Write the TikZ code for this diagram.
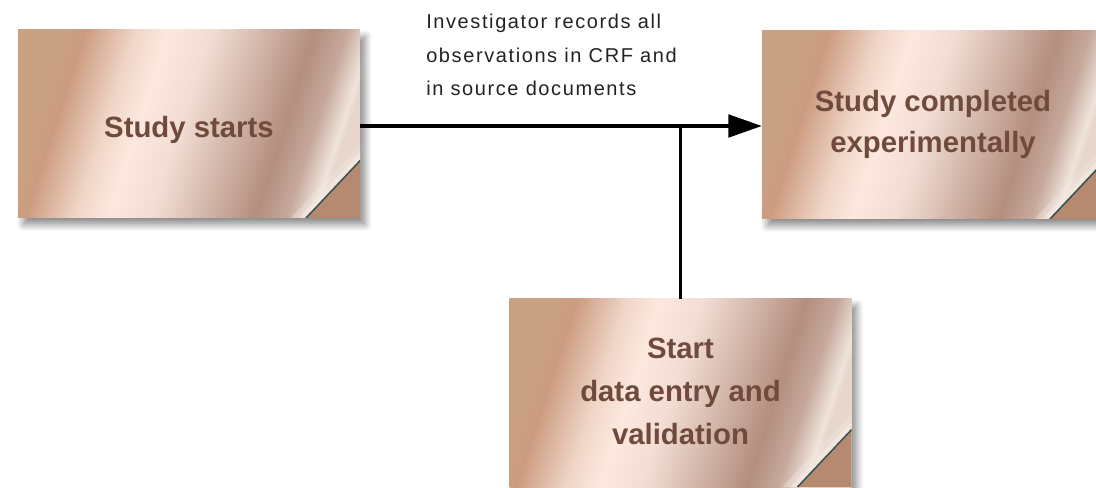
\documentclass[tikz,border=0pt]{standalone}
\usepackage{fontspec}
\setmainfont{Liberation Sans}
\newfontfamily\notefont[LetterSpace=8]{Liberation Sans}
\usetikzlibrary{arrows.meta,shadows.blur,calc}

\definecolor{boxtext}{HTML}{704A3C}
\definecolor{cornerfill}{HTML}{B58A70}
\definecolor{curledge}{HTML}{2E5050}
\definecolor{curllight}{HTML}{F6ECE4}
\definecolor{labeltext}{HTML}{222222}

% copper sheen stops
\definecolor{cuA}{HTML}{C9A284}
\definecolor{cuB}{HTML}{CC9C80}
\definecolor{cuC}{HTML}{F0D6C8}
\definecolor{cuD}{HTML}{FCE8DE}
\definecolor{cuE}{HTML}{F1DDD3}
\definecolor{cuF}{HTML}{D3B6AA}
\definecolor{cuG}{HTML}{B48E7E}
\definecolor{cuH}{HTML}{C6A99C}
\definecolor{cuI}{HTML}{F0E4DC}
\definecolor{cuJ}{HTML}{E8D6CC}

% metallic copper sheen, slanted streaks
\pgfdeclarehorizontalshading{copper}{100bp}{%
  color(0bp)=(cuA);
  color(25bp)=(cuA);
  color(29bp)=(cuB);
  color(37bp)=(cuC);
  color(42bp)=(cuD);
  color(49bp)=(cuE);
  color(57bp)=(cuF);
  color(65bp)=(cuG);
  color(70bp)=(cuH);
  color(74bp)=(cuI);
  color(75bp)=(cuJ);
  color(100bp)=(cuJ)}

\tikzset{
  sheet/.style={
    minimum width=256.5pt, minimum height=141pt, inner sep=0pt,
    shading=copper, shading angle=-18,
    blur shadow={shadow xshift=4pt, shadow yshift=-5pt, shadow blur steps=8, shadow blur radius=5pt, shadow opacity=45},
    path picture={
      \coordinate (se) at (path picture bounding box.south east);
      % soft light on the curled-up back of the page
      \fill[curllight, opacity=0.35]
        ($(se)+(0,43pt)$) -- ($(se)+(-40.5pt,0)$) -- ($(se)+(-52pt,0)$) -- ($(se)+(0,55pt)$) -- cycle;
      \fill[curllight, opacity=0.55]
        ($(se)+(0,43pt)$) -- ($(se)+(-40.5pt,0)$) -- ($(se)+(-46pt,0)$) -- ($(se)+(0,49pt)$) -- cycle;
      % turned corner
      \fill[cornerfill] (se) -- ++(0,43pt) -- ++(-40.5pt,-43pt) -- cycle;
      \draw[curledge, line width=1.1pt] ($(se)+(0,43pt)$) -- ($(se)+(-40.5pt,0)$);
    }
  },
  sheettext/.style={font=\bfseries\fontsize{22pt}{30.5pt}\selectfont, text=boxtext, align=center, inner sep=0pt},
  link/.style={line width=2.3pt, black},
  tip/.style={-{Triangle[length=25pt,width=17pt]}},
  note/.style={font=\notefont\fontsize{15pt}{25pt}\selectfont, text=labeltext, align=left, inner sep=0pt}
}

\begin{document}
\begin{tikzpicture}[x=0.75pt, y=-0.75pt]
  \useasboundingbox (0,0) rectangle (1096,488);

  % sheets
  \node[sheet] (start) at (189,124) {};
  \node[sheet] (done) at (933,125) {};
  \node[sheet] (entry) at (680.5,393) {};

  % sheet captions
  \node[sheettext] (startText) at (189,130) {Study starts};
  \node[sheettext] (doneText) at (933,124.5) {Study completed\\experimentally};
  \node[sheettext, font=\bfseries\fontsize{22pt}{32pt}\selectfont] (entryText) at (680.5,391.5)
    {Start\\data entry and\\validation};

  \node[note, anchor=north west] (obs) at (426,14)
    {Investigator records all\\observations in CRF and\\in source documents};

  \coordinate (split) at (start.east |- 0,126);
  \coordinate (join) at (entry.north |- split);
  \draw[link, tip] (split) -- (split -| done.west);
  \draw[link] (entry.north) -- (join);
\end{tikzpicture}
\end{document}
